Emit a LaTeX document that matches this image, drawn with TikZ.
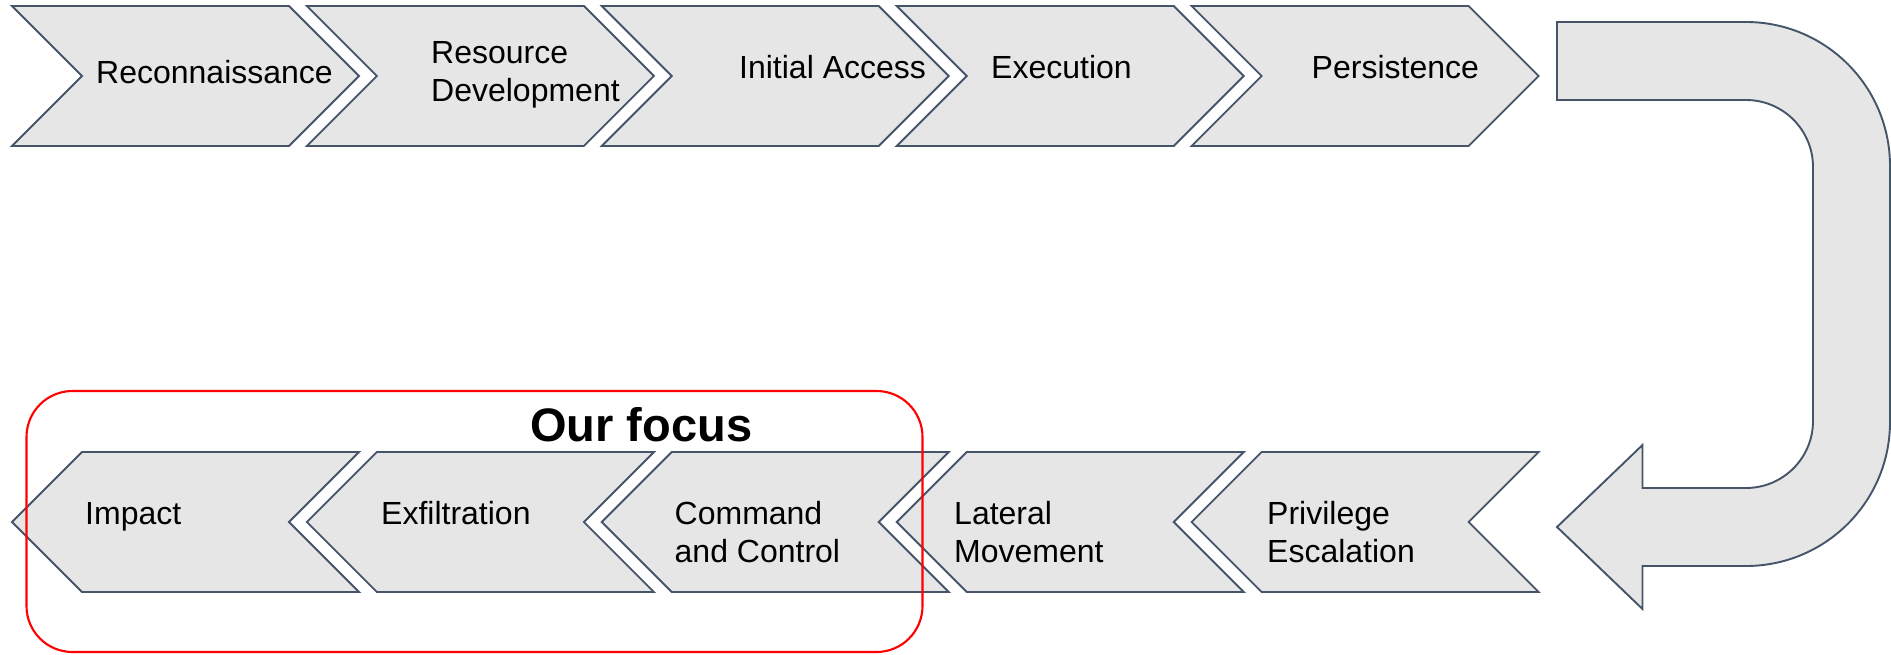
\documentclass[tikz,border=0pt]{standalone}
\usepackage{fontspec}
\setmainfont{Liberation Sans}
\definecolor{edgec}{HTML}{46546A}
\definecolor{chfill}{HTML}{E6E6E6}
\tikzset{
  chev/.style={draw=edgec, fill=chfill, line width=1.9pt, line join=miter},
  lbl/.style={anchor=base west, inner sep=0pt, font=\fontsize{32}{37.7}\selectfont, align=left},
  focusbox/.style={draw=red, line width=2.1pt, rounded corners=46pt},
}
\begin{document}
\begin{tikzpicture}[x=1pt,y=-1pt]
\useasboundingbox (0,0) rectangle (1891,655);
% top row, pointing right
\foreach \L in {12,306.9,601.8,896.7,1191.6}
  \draw[chev] (\L,6) -- (\L+277,6) -- (\L+347,76) -- (\L+277,146) -- (\L,146) -- (\L+70,76) -- cycle;
% bottom row, pointing left
\foreach \L in {12,306.9,601.8,896.7,1191.6}
  \draw[chev] (\L,522) -- (\L+70,452) -- (\L+347,452) -- (\L+277,522) -- (\L+347,592) -- (\L+70,592) -- cycle;
% U-turn arrow
\draw[chev] (1557,22) -- (1746,22) arc[start angle=-90,end angle=0,radius=144]
  -- (1890,422) arc[start angle=0,end angle=90,radius=144]
  -- (1642.5,566) -- (1642.5,609) -- (1557,527) -- (1642.5,445) -- (1642.5,488)
  -- (1746,488) arc[start angle=90,end angle=0,radius=67]
  -- (1813,167) arc[start angle=0,end angle=-90,radius=67]
  -- (1557,100) -- cycle;
% labels (base = baseline of the last line)
\node[lbl] (recon) at (96,83.5) {Reconnaissance};
\node[lbl] (resdev) at (431,101.7) {Resource\\Development};
\node[lbl] (initial) at (739,79) {Initial Access};
\node[lbl] (exec) at (991,79) {Execution};
\node[lbl] (persist) at (1311.5,79) {Persistence};
\node[lbl] (impact) at (85,524.5) {Impact};
\node[lbl] (exfil) at (381,524.5) {Exfiltration};
\node[lbl] (cnc) at (674.5,562) {Command\\and Control};
\node[lbl] (lateral) at (954,562) {Lateral\\Movement};
\node[lbl] (privesc) at (1267,562) {Privilege\\Escalation};
% focus box
\draw[focusbox] (26.5,391) rectangle (922.5,652);
\node[anchor=base west, inner sep=0pt, font=\fontsize{47}{52}\selectfont\bfseries] (focus) at (530,441) {Our focus};
\end{tikzpicture}
\end{document}
